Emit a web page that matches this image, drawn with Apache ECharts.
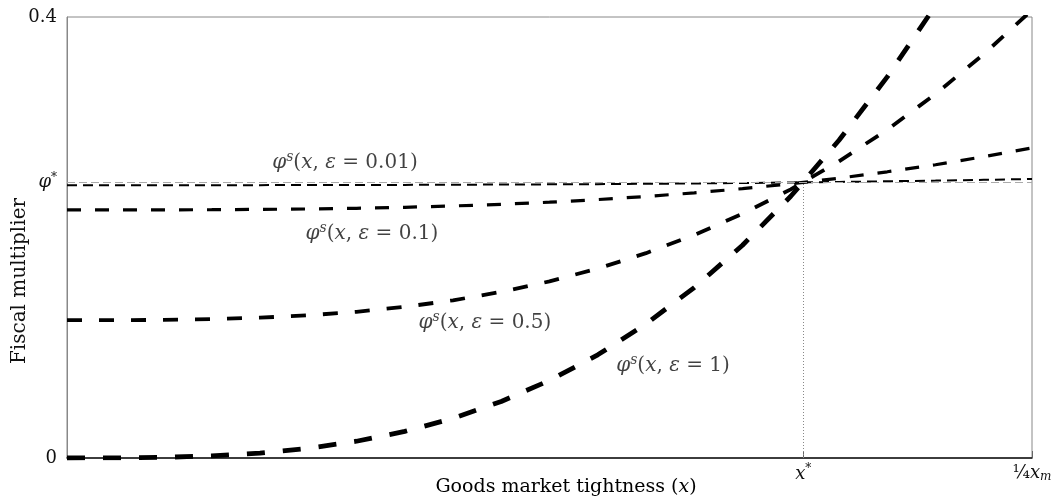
<!DOCTYPE html>
<html>
<head>
<meta charset="utf-8">
<script src="https://cdn.jsdelivr.net/npm/echarts@6/dist/echarts.min.js"></script>
<style>html,body{margin:0;padding:0;background:#fff}#c{width:1052px;height:502px}</style>
</head>
<body>
<div id="c"></div>
<script>
// x positions (0 = origin, 1 = x_m/4)
const xs = [0,0.05,0.1,0.15,0.2,0.25,0.3,0.35,0.4,0.45,0.5,0.55,0.6,0.65,0.7,0.75,0.8,0.85,0.9,0.95,1.0];
const eps001 = [0.2475,0.2475,0.2475,0.2475,0.2475,0.2476,0.2477,0.2477,0.2479,0.2480,0.2482,0.2484,0.2487,0.2490,0.2494,0.2499,0.2504,0.2510,0.2516,0.2523,0.2531];
const eps01  = [0.225,0.225,0.2251,0.2252,0.2255,0.2259,0.2265,0.2274,0.2286,0.2301,0.2320,0.2344,0.2372,0.2405,0.2443,0.2487,0.2538,0.2596,0.2660,0.2733,0.2813];
const eps05  = [0.125,0.125,0.1253,0.1260,0.1273,0.1294,0.1326,0.1371,0.1430,0.1507,0.1602,0.1718,0.1858,0.2023,0.2215,0.2437,0.2691,0.2978,0.3302,0.3663,0.4064];
const eps1   = [0,0.0001,0.0006,0.0019,0.0045,0.0088,0.0152,0.0241,0.0360,0.0513,0.0703,0.0936,0.1216,0.1546,0.1930,0.2374,0.2882,0.3457,0.4103,0.4825,0.5628];
const phiStar = 0.25;
const xStar = 0.763;
const yTicks = [0, 0.25, 0.4];
const yTickLabels = ['0', '{it|φ}{sup|*}', '0.4'];
const xTicks = [0.763, 1];
const xTickLabels = ['{it|x}{sup|*}', '{fr|¼}{it|x}{sub|m}'];
const curveLabels = ['0.01', '0.1', '0.5', '1'];
const labelPos = [[0.288, 0.2676], [0.316, 0.2032], [0.433, 0.1224], [0.628, 0.0834]];
const xTitle = '{r|Goods market tightness (}{it|x}{r|)}';
const yTitle = 'Fiscal multiplier';

const serif = '"DejaVu Serif", "Liberation Serif", serif';
function mkRich(fs) {
  return {
    it: {fontFamily: serif, fontStyle: 'italic', fontSize: fs, color: '#111'},
    r:  {fontFamily: serif, fontSize: fs, color: '#111'},
    sup:{fontFamily: serif, fontStyle: 'italic', fontSize: Math.round(fs * 0.68), color: '#111', verticalAlign: 'top', padding: [0,0,Math.round(fs*0.55),0]},
    sub:{fontFamily: serif, fontStyle: 'italic', fontSize: Math.round(fs * 0.68), color: '#111', padding: [Math.round(fs*0.45),0,0,0]},
    fr: {fontFamily: serif, fontSize: fs, color: '#111'}
  };
}

function pair(arr) { return xs.map((x, i) => [x, arr[i]]); }
const dashCfg = [
  {w: 2, d: [10, 6]},
  {w: 3.2, d: [14, 14]},
  {w: 3.8, d: [15, 17]},
  {w: 4.8, d: [18, 18]}
];
const curves = [eps001, eps01, eps05, eps1];

const series = curves.map((c, i) => ({
  type: 'line', data: pair(c), showSymbol: false, symbol: 'none', clip: true, z: 3 + i,
  lineStyle: {color: '#000', width: dashCfg[i].w, type: dashCfg[i].d, cap: 'butt'},
  silent: true, animation: false
}));

series.push({
  type: 'line', data: [], silent: true, animation: false, z: 2,
  markLine: {
    symbol: 'none', silent: true, animation: false, label: {show: false},
    data: [
      [{coord: [0, phiStar], lineStyle: {color: '#aaa', width: 1.2, type: [8, 4]}}, {coord: [1, phiStar]}],
      [{coord: [xStar, 0], lineStyle: {color: '#888', width: 1, type: [1, 2]}}, {coord: [xStar, phiStar]}]
    ]
  }
});

series.push({
  type: 'scatter', symbolSize: 0, silent: true, animation: false, z: 10,
  data: labelPos.map((p, i) => ({value: p, label: {
    show: true, position: 'inside', fontSize: 20,
    formatter: '{it|φ}{sup|s}{r|(}{it|x}{r|, }{it|ε}{r| = ' + curveLabels[i] + ')}',
    rich: mkRich(20)
  }}))
});

const chart = echarts.init(document.getElementById('c'), null, {renderer: 'canvas'});
chart.setOption({
  animation: false,
  backgroundColor: '#fff',
  grid: {left: 67, right: 20, top: 17, bottom: 44, containLabel: false, outerBoundsMode: 'none',
         show: true, borderColor: '#888', borderWidth: 1},
  graphic: [
    {type: 'text', x: 566, y: 487, silent: true,
     style: {text: xTitle, align: 'center', verticalAlign: 'middle', rich: mkRich(19), fontFamily: serif, fontSize: 19}},
    {type: 'text', x: 20, y: 281, rotation: Math.PI / 2, silent: true,
     style: {text: yTitle, align: 'center', verticalAlign: 'middle', fontFamily: serif, fontSize: 20, fill: '#111'}}
  ],
  xAxis: {
    type: 'value', min: 0, max: 1,
    axisLine: {show: true, lineStyle: {color: '#111', width: 1.5}},
    axisTick: {show: true, inside: true, length: 7, customValues: xTicks, lineStyle: {color: '#666'}},
    axisLabel: {show: true, customValues: xTicks, margin: 5,
      formatter: v => xTickLabels[xTicks.indexOf(v)] || '', rich: mkRich(18)},
    splitLine: {show: false}
  },
  yAxis: {
    type: 'value', min: 0, max: 0.4,
    axisLine: {show: true, lineStyle: {color: '#888', width: 1}},
    axisTick: {show: false},
    axisLabel: {show: true, customValues: yTicks, margin: 10,
      formatter: v => {const k = yTicks.findIndex(t => Math.abs(t - v) < 1e-9); return k >= 0 ? yTickLabels[k] : '';},
      fontFamily: serif, fontSize: 18, color: '#111', rich: mkRich(18)},
    splitLine: {show: false}
  },
  series: series
});
</script>
</body>
</html>
